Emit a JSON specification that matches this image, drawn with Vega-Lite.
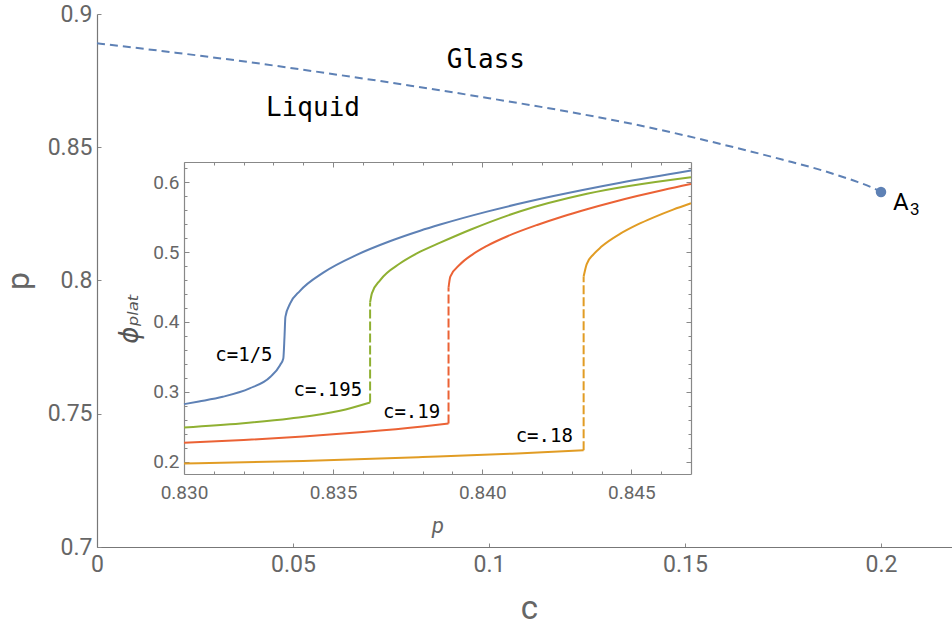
{
  "$schema": "https://vega.github.io/schema/vega-lite/v6.json",
  "width": 855,
  "height": 533,
  "autosize": {"type": "none"},
  "padding": {"left": 97, "top": 14, "right": 0, "bottom": 79},
  "background": "white",
  "config": {
    "view": {"stroke": null},
    "font": "Roboto",
    "axis": {"grid": false, "labelFlush": false, "labelOverlap": false, "domainColor": "#888", "tickColor": "#888", "labelColor": "#666", "titleColor": "#666", "labelFont": "Roboto", "titleFont": "Roboto", "titleFontWeight": "normal", "domainWidth": 1.2, "tickWidth": 1}
  },
  "datasets": {
    "phase": [
      {"c": 0, "p": 0.889}, {"c": 0.02, "p": 0.8855}, {"c": 0.04, "p": 0.8817}, {"c": 0.06, "p": 0.8775},
      {"c": 0.08, "p": 0.8731}, {"c": 0.1, "p": 0.8684}, {"c": 0.12, "p": 0.8634}, {"c": 0.14, "p": 0.8577},
      {"c": 0.16, "p": 0.8509}, {"c": 0.175, "p": 0.8453}, {"c": 0.185, "p": 0.8413}, {"c": 0.193, "p": 0.8375},
      {"c": 0.198, "p": 0.8347}, {"c": 0.2, "p": 0.8332}
    ],
    "a3": [{"c": 0.2, "p": 0.8332, "name": "A", "sub": "3"}],
    "regions": [
      {"c": 0.0992, "p": 0.8796, "name": "Glass"},
      {"c": 0.0551, "p": 0.8617, "name": "Liquid"}
    ],
    "inset": [
      {"curve": "1/5", "part": "lo", "p": 0.83, "phi": 0.2824},
      {"curve": "1/5", "part": "lo", "p": 0.8305, "phi": 0.2862},
      {"curve": "1/5", "part": "lo", "p": 0.8313, "phi": 0.2929},
      {"curve": "1/5", "part": "lo", "p": 0.8322, "phi": 0.3049},
      {"curve": "1/5", "part": "lo", "p": 0.8329, "phi": 0.3215},
      {"curve": "1/5", "part": "lo", "p": 0.83322, "phi": 0.3382},
      {"curve": "1/5", "part": "lo", "p": 0.83333, "phi": 0.3478},
      {"curve": "1/5", "part": "lo", "p": 0.83337, "phi": 0.3788},
      {"curve": "1/5", "part": "lo", "p": 0.8334, "phi": 0.4074},
      {"curve": "1/5", "part": "lo", "p": 0.83356, "phi": 0.4265},
      {"curve": "1/5", "part": "lo", "p": 0.83389, "phi": 0.4446},
      {"curve": "1/5", "part": "lo", "p": 0.83467, "phi": 0.4707},
      {"curve": "1/5", "part": "lo", "p": 0.83579, "phi": 0.4961},
      {"curve": "1/5", "part": "lo", "p": 0.8369, "phi": 0.5156},
      {"curve": "1/5", "part": "lo", "p": 0.83792, "phi": 0.5307},
      {"curve": "1/5", "part": "lo", "p": 0.83859, "phi": 0.5395},
      {"curve": "1/5", "part": "lo", "p": 0.84016, "phi": 0.558},
      {"curve": "1/5", "part": "lo", "p": 0.84239, "phi": 0.5802},
      {"curve": "1/5", "part": "lo", "p": 0.84463, "phi": 0.5993},
      {"curve": "1/5", "part": "lo", "p": 0.847, "phi": 0.6168},

      {"curve": ".195", "part": "lo", "p": 0.83, "phi": 0.249},
      {"curve": ".195", "part": "lo", "p": 0.8319, "phi": 0.2547},
      {"curve": ".195", "part": "lo", "p": 0.83356, "phi": 0.2619},
      {"curve": ".195", "part": "lo", "p": 0.83523, "phi": 0.2728},
      {"curve": ".195", "part": "lo", "p": 0.83624, "phi": 0.2848},
      {"curve": ".195", "part": "jump", "p": 0.83624, "phi": 0.2848},
      {"curve": ".195", "part": "jump", "p": 0.83624, "phi": 0.428},
      {"curve": ".195", "part": "hi", "p": 0.83624, "phi": 0.428},
      {"curve": ".195", "part": "hi", "p": 0.8363, "phi": 0.441},
      {"curve": ".195", "part": "hi", "p": 0.83658, "phi": 0.46},
      {"curve": ".195", "part": "hi", "p": 0.83725, "phi": 0.484},
      {"curve": ".195", "part": "hi", "p": 0.83792, "phi": 0.5006},
      {"curve": ".195", "part": "hi", "p": 0.83859, "phi": 0.5135},
      {"curve": ".195", "part": "hi", "p": 0.8396, "phi": 0.532},
      {"curve": ".195", "part": "hi", "p": 0.84128, "phi": 0.5585},
      {"curve": ".195", "part": "hi", "p": 0.84351, "phi": 0.5835},
      {"curve": ".195", "part": "hi", "p": 0.847, "phi": 0.6072},

      {"curve": ".19", "part": "lo", "p": 0.83, "phi": 0.227},
      {"curve": ".19", "part": "lo", "p": 0.832, "phi": 0.231},
      {"curve": ".19", "part": "lo", "p": 0.834, "phi": 0.236},
      {"curve": ".19", "part": "lo", "p": 0.836, "phi": 0.2425},
      {"curve": ".19", "part": "lo", "p": 0.838, "phi": 0.2505},
      {"curve": ".19", "part": "lo", "p": 0.83887, "phi": 0.2547},
      {"curve": ".19", "part": "jump", "p": 0.83887, "phi": 0.2547},
      {"curve": ".19", "part": "jump", "p": 0.83887, "phi": 0.449},
      {"curve": ".19", "part": "hi", "p": 0.83887, "phi": 0.449},
      {"curve": ".19", "part": "hi", "p": 0.83893, "phi": 0.4648},
      {"curve": ".19", "part": "hi", "p": 0.83926, "phi": 0.4826},
      {"curve": ".19", "part": "hi", "p": 0.83967, "phi": 0.4965},
      {"curve": ".19", "part": "hi", "p": 0.84016, "phi": 0.509},
      {"curve": ".19", "part": "hi", "p": 0.84087, "phi": 0.5232},
      {"curve": ".19", "part": "hi", "p": 0.84184, "phi": 0.5389},
      {"curve": ".19", "part": "hi", "p": 0.84267, "phi": 0.5507},
      {"curve": ".19", "part": "hi", "p": 0.84351, "phi": 0.5614},
      {"curve": ".19", "part": "hi", "p": 0.84437, "phi": 0.5714},
      {"curve": ".19", "part": "hi", "p": 0.84519, "phi": 0.5802},
      {"curve": ".19", "part": "hi", "p": 0.84607, "phi": 0.589},
      {"curve": ".19", "part": "hi", "p": 0.847, "phi": 0.5975},

      {"curve": ".18", "part": "lo", "p": 0.83, "phi": 0.1974},
      {"curve": ".18", "part": "lo", "p": 0.834, "phi": 0.201},
      {"curve": ".18", "part": "lo", "p": 0.838, "phi": 0.2066},
      {"curve": ".18", "part": "lo", "p": 0.841, "phi": 0.2115},
      {"curve": ".18", "part": "lo", "p": 0.8434, "phi": 0.2165},
      {"curve": ".18", "part": "jump", "p": 0.8434, "phi": 0.2165},
      {"curve": ".18", "part": "jump", "p": 0.8434, "phi": 0.465},
      {"curve": ".18", "part": "hi", "p": 0.8434, "phi": 0.465},
      {"curve": ".18", "part": "hi", "p": 0.8435, "phi": 0.4825},
      {"curve": ".18", "part": "hi", "p": 0.84373, "phi": 0.4968},
      {"curve": ".18", "part": "hi", "p": 0.844, "phi": 0.5079},
      {"curve": ".18", "part": "hi", "p": 0.84463, "phi": 0.5264},
      {"curve": ".18", "part": "hi", "p": 0.8452, "phi": 0.5393},
      {"curve": ".18", "part": "hi", "p": 0.84575, "phi": 0.5498},
      {"curve": ".18", "part": "hi", "p": 0.8464, "phi": 0.5609},
      {"curve": ".18", "part": "hi", "p": 0.847, "phi": 0.57}
    ],
    "labels": [
      {"text": "c=1/5", "p": 0.83201, "phi": 0.3444},
      {"text": "c=.195", "p": 0.83482, "phi": 0.2938},
      {"text": "c=.19", "p": 0.83763, "phi": 0.2628},
      {"text": "c=.18", "p": 0.84208, "phi": 0.2275}
    ]
  },
  "layer": [
    {
      "layer": [
        {
          "data": {"name": "phase"},
          "mark": {"type": "line", "color": "#5E81B5", "strokeWidth": 2, "strokeDash": [8, 5], "interpolate": "monotone"},
          "encoding": {
            "x": {"field": "c", "type": "quantitative", "scale": {"domain": [0, 0.21811], "nice": false, "zero": false},
              "axis": {"orient": "bottom", "values": [0, 0.05, 0.1, 0.15, 0.2], "format": ".2~f", "title": "c", "titleFontSize": 33, "titleX": 432, "titleAlign": "center", "titleY": 71, "titleBaseline": "alphabetic", "labelFontSize": 23, "tickSize": -4, "labelPadding": 10, "domainColor": "#777"}},
            "y": {"field": "p", "type": "quantitative", "scale": {"domain": [0.7, 0.9], "nice": false, "zero": false},
              "axis": {"orient": "left", "values": [0.7, 0.75, 0.8, 0.85, 0.9], "format": ".2~f", "title": "p", "titleFontSize": 32, "titleX": -69, "titleY": 266.5, "titleAngle": -90, "titleAlign": "center", "titleBaseline": "alphabetic", "labelFontSize": 23, "tickSize": -4, "labelPadding": 9, "domainColor": "#777"}}
          }
        },
        {
          "data": {"name": "a3"},
          "mark": {"type": "point", "filled": true, "size": 110, "color": "#5E81B5", "opacity": 1},
          "encoding": {
            "x": {"field": "c", "type": "quantitative"},
            "y": {"field": "p", "type": "quantitative"}
          }
        },
        {
          "data": {"name": "a3"},
          "mark": {"type": "text", "align": "left", "baseline": "alphabetic", "dx": 12, "dy": 18, "font": "Roboto", "fontSize": 24, "color": "black"},
          "encoding": {
            "x": {"field": "c", "type": "quantitative"},
            "y": {"field": "p", "type": "quantitative"},
            "text": {"field": "name"}
          }
        },
        {
          "data": {"name": "a3"},
          "mark": {"type": "text", "align": "left", "baseline": "alphabetic", "dx": 29, "dy": 23, "font": "Roboto", "fontSize": 17, "color": "black"},
          "encoding": {
            "x": {"field": "c", "type": "quantitative"},
            "y": {"field": "p", "type": "quantitative"},
            "text": {"field": "sub"}
          }
        },
        {
          "data": {"name": "regions"},
          "mark": {"type": "text", "align": "center", "baseline": "alphabetic", "font": "DejaVu Sans Mono", "fontSize": 26, "color": "black"},
          "encoding": {
            "x": {"field": "c", "type": "quantitative"},
            "y": {"field": "p", "type": "quantitative"},
            "text": {"field": "name"}
          }
        },
        {
          "mark": {"type": "rule", "color": "#aaa", "strokeWidth": 1.2},
          "encoding": {"y": {"datum": 0.9}}
        }
      ]
    },
    {
      "layer": [
        {
          "data": {"name": "inset"},
          "transform": [{"filter": "datum.part === 'lo'"}],
          "mark": {"type": "line", "strokeWidth": 2, "interpolate": "monotone"},
          "encoding": {
            "x": {"field": "p", "type": "quantitative", "scale": {"domain": [0.83, 0.847], "range": [87, 594], "nice": false, "zero": false},
              "axis": {"orient": "bottom", "offset": -73, "values": [0.83, 0.835, 0.84, 0.845], "format": ".3f", "title": "p", "titleFontStyle": "italic", "titleFontSize": 22, "titleY": 58, "titleBaseline": "alphabetic", "labelFontSize": 19, "tickSize": -5, "labelPadding": 14}},
            "y": {"field": "phi", "type": "quantitative", "scale": {"domain": [0.1824, 0.629], "range": [460, 148], "nice": false, "zero": false},
              "axis": {"orient": "left", "offset": -87, "values": [0.2, 0.3, 0.4, 0.5, 0.6], "format": ".1f", "title": "ϕₚₗₐₜ", "titleFont": "DejaVu Sans", "titleFontStyle": "italic", "titleFontSize": 26, "titleColor": "#555", "titleX": -47, "titleY": 304, "titleAngle": -90, "titleAlign": "center", "titleBaseline": "alphabetic", "labelFontSize": 19, "tickSize": -5, "labelPadding": 10}},
            "color": {"field": "curve", "type": "nominal", "scale": {"domain": ["1/5", ".195", ".19", ".18"], "range": ["#5E81B5", "#8FB032", "#EB6235", "#E19C24"]}, "legend": null}
          }
        },
        {
          "data": {"name": "inset"},
          "transform": [{"filter": "datum.part === 'hi'"}],
          "mark": {"type": "line", "strokeWidth": 2, "interpolate": "monotone"},
          "encoding": {
            "x": {"field": "p", "type": "quantitative",
              "axis": {"orient": "bottom", "offset": -73, "values": [0.831, 0.832, 0.833, 0.834, 0.836, 0.837, 0.838, 0.839, 0.841, 0.842, 0.843, 0.844, 0.846], "labels": false, "domain": false, "title": null, "tickSize": -3}},
            "y": {"field": "phi", "type": "quantitative",
              "axis": {"orient": "left", "offset": -87, "values": [0.22, 0.24, 0.26, 0.28, 0.32, 0.34, 0.36, 0.38, 0.42, 0.44, 0.46, 0.48, 0.52, 0.54, 0.56, 0.58, 0.62], "labels": false, "domain": false, "title": null, "tickSize": -3}},
            "color": {"field": "curve", "type": "nominal", "legend": null}
          }
        },
        {
          "data": {"name": "inset"},
          "transform": [{"filter": "datum.part === 'jump'"}],
          "mark": {"type": "line", "strokeWidth": 2, "strokeDash": [9, 3]},
          "encoding": {
            "x": {"field": "p", "type": "quantitative",
              "axis": {"orient": "top", "offset": -148, "values": [0.83, 0.835, 0.84, 0.845], "labels": false, "title": null, "tickSize": -5}},
            "y": {"field": "phi", "type": "quantitative",
              "axis": {"orient": "right", "offset": -261, "values": [0.2, 0.3, 0.4, 0.5, 0.6], "labels": false, "title": null, "tickSize": -5}},
            "color": {"field": "curve", "type": "nominal", "legend": null}
          }
        },
        {
          "data": {"name": "labels"},
          "mark": {"type": "text", "align": "center", "baseline": "alphabetic", "font": "DejaVu Sans Mono", "fontSize": 19, "color": "black"},
          "encoding": {
            "x": {"field": "p", "type": "quantitative",
              "axis": {"orient": "top", "offset": -148, "values": [0.831, 0.832, 0.833, 0.834, 0.836, 0.837, 0.838, 0.839, 0.841, 0.842, 0.843, 0.844, 0.846], "labels": false, "domain": false, "title": null, "tickSize": -3}},
            "y": {"field": "phi", "type": "quantitative",
              "axis": {"orient": "right", "offset": -261, "values": [0.22, 0.24, 0.26, 0.28, 0.32, 0.34, 0.36, 0.38, 0.42, 0.44, 0.46, 0.48, 0.52, 0.54, 0.56, 0.58, 0.62], "labels": false, "domain": false, "title": null, "tickSize": -3}},
            "text": {"field": "text"}
          }
        }
      ],
      "resolve": {"axis": {"x": "independent", "y": "independent"}}
    }
  ],
  "resolve": {"scale": {"x": "independent", "y": "independent", "color": "independent"}}
}
